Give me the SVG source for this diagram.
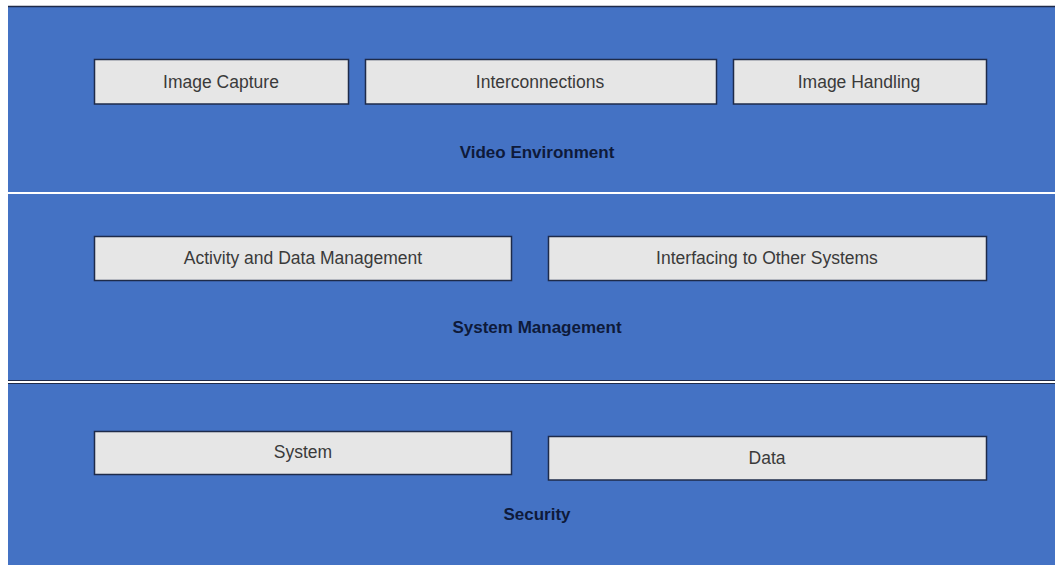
<svg xmlns="http://www.w3.org/2000/svg" width="1055" height="565" viewBox="0 0 1055 565">
  <style>
    .band { fill: #4472C4; }
    .box { fill: #E6E6E6; stroke: #1E2B4A; stroke-width: 1.5; }
    .lbl { font-family: "Liberation Sans", Arial, sans-serif; font-size: 17.5px; fill: #3A3A3A; text-anchor: middle; dominant-baseline: central; }
    .title { font-family: "Liberation Sans", Arial, sans-serif; font-size: 17px; font-weight: bold; fill: #0E1A3A; text-anchor: middle; dominant-baseline: central; }
  </style>
  <rect x="0" y="0" width="1055" height="565" fill="#FFFFFF"/>
  <g id="bands">
    <rect class="band" x="8" y="6" width="1047" height="186"/>
    <line x1="8" y1="6.5" x2="1055" y2="6.5" stroke="#1E2B4A" stroke-width="1.5"/>
    <rect class="band" x="8" y="194" width="1047" height="186"/>
    <rect class="band" x="8" y="384" width="1047" height="181"/>
    <line x1="8" y1="380.5" x2="1055" y2="380.5" stroke="#1E2B4A" stroke-width="1.2"/>
    <line x1="8" y1="383.5" x2="1055" y2="383.5" stroke="#1E2B4A" stroke-width="1.2"/>
  </g>
  <g id="video-environment">
    <text class="title" x="537" y="152">Video Environment</text>
  </g>
  <g id="image-capture">
    <rect class="box" x="94.5" y="59.5" width="254" height="44.5"/>
    <text class="lbl" x="221" y="82">Image Capture</text>
  </g>
  <g id="interconnections">
    <rect class="box" x="365.5" y="59.5" width="351" height="44.5"/>
    <text class="lbl" x="540" y="82">Interconnections</text>
  </g>
  <g id="image-handling">
    <rect class="box" x="733.5" y="59.5" width="253" height="44.5"/>
    <text class="lbl" x="859" y="82">Image Handling</text>
  </g>
  <g id="system-management">
    <text class="title" x="537" y="327">System Management</text>
  </g>
  <g id="activity-data-management">
    <rect class="box" x="94.5" y="236.5" width="417" height="44"/>
    <text class="lbl" x="303" y="258">Activity and Data Management</text>
  </g>
  <g id="interfacing">
    <rect class="box" x="548.5" y="236.5" width="438" height="44"/>
    <text class="lbl" x="767" y="258">Interfacing to Other Systems</text>
  </g>
  <g id="security">
    <text class="title" x="537" y="514">Security</text>
  </g>
  <g id="system">
    <rect class="box" x="94.5" y="431.5" width="417" height="43"/>
    <text class="lbl" x="303" y="452">System</text>
  </g>
  <g id="data">
    <rect class="box" x="548.5" y="436.5" width="438" height="43.5"/>
    <text class="lbl" x="767" y="458">Data</text>
  </g>
  <g id="connectors"/>
</svg>
